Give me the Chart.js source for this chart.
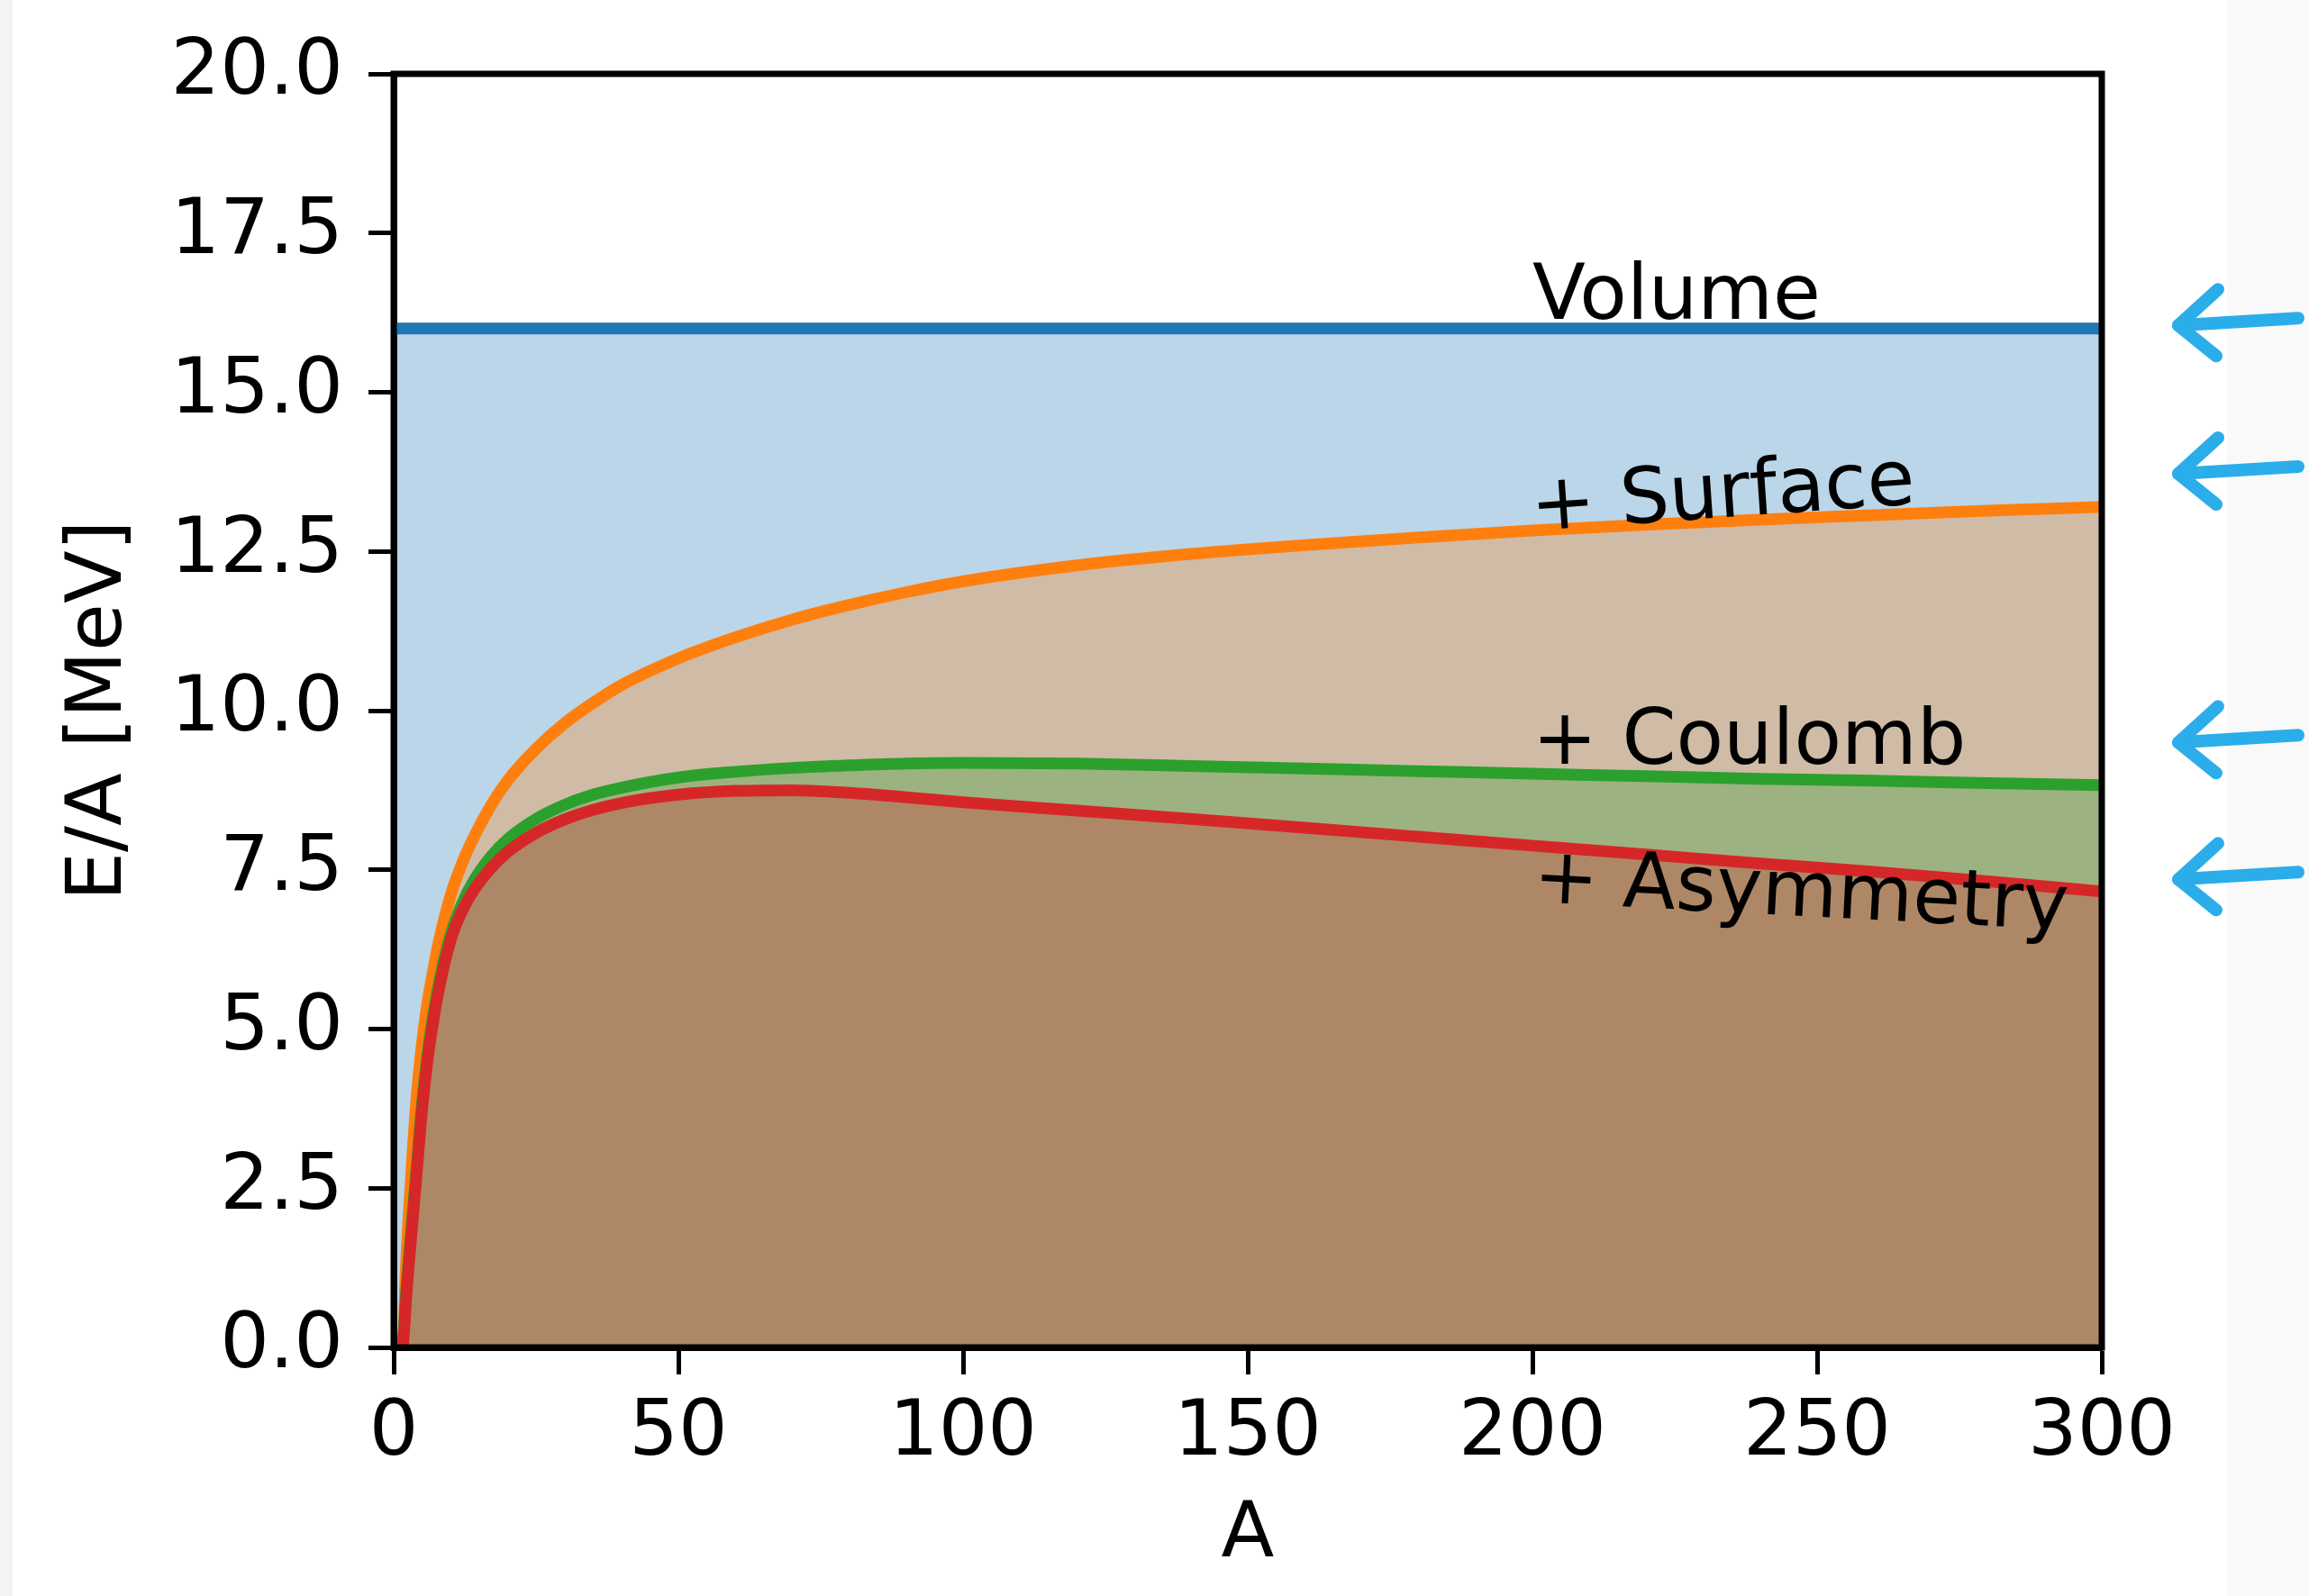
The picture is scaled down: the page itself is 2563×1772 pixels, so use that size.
<!DOCTYPE html>
<html>
<head>
<meta charset="utf-8">
<script src="https://cdn.jsdelivr.net/npm/chart.js@4.4.1/dist/chart.umd.min.js"></script>
<style>
  html, body { margin: 0; padding: 0; background: #ffffff; }
  #wrap { width: 2563px; height: 1772px; position: relative; background: #ffffff; }
  canvas { display: block; }
</style>
</head>
<body>
<div id="wrap"><canvas id="c" width="2563" height="1772"></canvas></div>
<script>
// ---- data (values below 0 are off-chart estimates) ----
const A_VALUES   = [0, 1, 2, 3, 4, 5, 6, 7, 8, 10, 12, 14, 17, 20, 25, 30, 35, 40, 50, 60, 70, 80, 90, 100, 120, 140, 160, 180, 200, 220, 240, 260, 280, 300];
const VOLUME     = [16, 16, 16, 16, 16, 16, 16, 16, 16, 16, 16, 16, 16, 16, 16, 16, 16, 16, 16, 16, 16, 16, 16, 16, 16, 16, 16, 16, 16, 16, 16, 16, 16, 16];
const SURFACE    = [-8, -2.5, 0.9, 2.6, 3.9, 4.8, 5.45, 5.95, 6.4, 7.1, 7.6, 8.0, 8.5, 8.9, 9.4, 9.8, 10.12, 10.4, 10.82, 11.15, 11.43, 11.66, 11.86, 12.03, 12.28, 12.46, 12.6, 12.72, 12.83, 12.92, 13.0, 13.07, 13.14, 13.2];
const COULOMB    = [-8, -1.5, 0.6, 1.75, 2.8, 3.85, 4.65, 5.25, 5.75, 6.48, 6.97, 7.32, 7.7, 7.98, 8.3, 8.52, 8.68, 8.79, 8.95, 9.04, 9.1, 9.14, 9.17, 9.18, 9.17, 9.13, 9.09, 9.05, 9.01, 8.97, 8.93, 8.9, 8.86, 8.83];
const ASYMMETRY  = [-8, -1.5, 0.5, 1.65, 2.7, 3.75, 4.55, 5.15, 5.65, 6.4, 6.85, 7.17, 7.52, 7.78, 8.08, 8.29, 8.44, 8.55, 8.68, 8.74, 8.75, 8.71, 8.64, 8.56, 8.43, 8.3, 8.16, 8.02, 7.88, 7.74, 7.6, 7.47, 7.32, 7.16];

const X_TICK_VALUES = [0, 50, 100, 150, 200, 250, 300];
const X_TICK_LABELS = ['0', '50', '100', '150', '200', '250', '300'];
const Y_TICK_VALUES = [0, 2.5, 5, 7.5, 10, 12.5, 15, 17.5, 20];
const Y_TICK_LABELS = ['0.0', '2.5', '5.0', '7.5', '10.0', '12.5', '15.0', '17.5', '20.0'];

const X_TITLE = 'A';
const Y_TITLE = 'E/A [MeV]';

// text annotations (data coordinates) and rotation in degrees
const LABEL_TEXTS  = ['Volume', '+ Surface', '+ Coulomb', '+ Asymmetry'];
const LABEL_A      = [200, 200, 200, 200];
const LABEL_VALUES = [16.15, 12.83, 9.16, 7.0];
const LABEL_ROT    = [0, -4, 0, 3];

// hand-drawn arrows on the right margin, pointing at these values
const ARROW_VALUES = [16.05, 13.72, 9.5, 7.35];

// ---- styling ----
const FONT = 'DejaVu Sans';
const FS = 86;
const COLORS = ['#1f77b4', '#ff7f0e', '#2ca02c', '#d62728'];
const FILLS  = ['rgba(31,119,180,0.3)', 'rgba(255,127,14,0.3)', 'rgba(44,160,44,0.3)', 'rgba(214,39,40,0.3)'];
const SERIES = [VOLUME, SURFACE, COULOMB, ASYMMETRY];
const NAMES  = ['Volume', 'Surface', 'Coulomb', 'Asymmetry'];

const datasets = SERIES.map((vals, i) => ({
  label: NAMES[i],
  data: A_VALUES.map((a, k) => ({ x: a, y: vals[k] })),
  borderColor: COLORS[i],
  backgroundColor: FILLS[i],
  borderWidth: 13,
  pointRadius: 0,
  fill: 'origin',
  cubicInterpolationMode: 'monotone',
  order: SERIES.length - i,
  clip: 0
}));

const bgPlugin = {
  id: 'bg',
  beforeDraw(chart) {
    const { ctx, width, height } = chart;
    ctx.save();
    ctx.fillStyle = '#ffffff';
    ctx.fillRect(0, 0, width, height);
    ctx.fillStyle = '#f3f3f3';
    ctx.fillRect(0, 0, 14, height);
    ctx.fillStyle = '#f9f9f9';
    ctx.fillRect(2472, 0, width - 2472, height);
    ctx.restore();
  }
};

const spinePlugin = {
  id: 'spines',
  afterDatasetsDraw(chart) {
    const { ctx, chartArea: a } = chart;
    ctx.save();
    ctx.strokeStyle = '#000';
    ctx.lineWidth = 7;
    ctx.strokeRect(a.left, a.top, a.right - a.left, a.bottom - a.top);
    ctx.restore();
  }
};

const annotationPlugin = {
  id: 'annot',
  afterDraw(chart) {
    const { ctx, chartArea: a } = chart;
    const xs = chart.scales.x, ys = chart.scales.y;
    ctx.save();
    ctx.fillStyle = '#000';
    ctx.font = FS + 'px "' + FONT + '"';
    ctx.textAlign = 'left';
    ctx.textBaseline = 'alphabetic';
    LABEL_TEXTS.forEach((t, i) => {
      const px = xs.getPixelForValue(LABEL_A[i]);
      const py = ys.getPixelForValue(LABEL_VALUES[i]);
      ctx.save();
      ctx.translate(px, py);
      ctx.rotate(LABEL_ROT[i] * Math.PI / 180);
      ctx.fillText(t, 0, 0);
      ctx.restore();
    });
    ctx.restore();

    // hand-drawn style arrows
    ctx.save();
    ctx.strokeStyle = '#2badea';
    ctx.lineWidth = 14;
    ctx.lineCap = 'round';
    ctx.lineJoin = 'round';
    ARROW_VALUES.forEach((v) => {
      const y = ys.getPixelForValue(v);
      const tip = a.right + 85;
      const end = a.right + 218;
      ctx.beginPath();
      ctx.moveTo(end, y - 8);
      ctx.quadraticCurveTo((tip + end) / 2, y - 4, tip, y);
      ctx.stroke();
      ctx.beginPath();
      ctx.moveTo(tip + 44, y - 40);
      ctx.lineTo(tip, y);
      ctx.lineTo(tip + 42, y + 34);
      ctx.stroke();
    });
    ctx.restore();
  }
};

new Chart(document.getElementById('c'), {
  type: 'line',
  data: { datasets },
  plugins: [bgPlugin, spinePlugin, annotationPlugin],
  options: {
    responsive: false,
    animation: false,
    devicePixelRatio: 1,
    layout: { padding: { left: 0, top: 82, right: 230, bottom: 0 } },
    plugins: {
      legend: { display: false },
      tooltip: { enabled: false },
      filler: { drawTime: 'beforeDatasetsDraw' }
    },
    scales: {
      x: {
        type: 'linear',
        min: 0, max: 300,
        afterFit(s) { s.height = 276; },
        afterBuildTicks(s) { s.ticks = X_TICK_VALUES.map(v => ({ value: v })); },
        ticks: {
          autoSkip: false, maxRotation: 0, minRotation: 0,
          padding: 15,
          color: '#000',
          font: { family: FONT, size: FS, lineHeight: 1.2 },
          callback: (v, idx) => X_TICK_LABELS[idx]
        },
        grid: { drawOnChartArea: false, drawTicks: true, tickLength: 30, tickWidth: 5, tickColor: '#000' },
        border: { display: true, color: '#000', width: 7 },
        title: { display: true, text: X_TITLE, color: '#000', font: { family: FONT, size: FS, lineHeight: 1.2 }, padding: { top: 0, bottom: 15 } }
      },
      y: {
        type: 'linear',
        min: 0, max: 20,
        afterFit(s) { s.width = 437; },
        afterBuildTicks(s) { s.ticks = Y_TICK_VALUES.map(v => ({ value: v })); },
        ticks: {
          autoSkip: false,
          padding: 28,
          color: '#000',
          font: { family: FONT, size: FS, lineHeight: 1.2 },
          callback: (v, idx) => Y_TICK_LABELS[idx]
        },
        grid: { drawOnChartArea: false, drawTicks: true, tickLength: 28, tickWidth: 5, tickColor: '#000' },
        border: { display: true, color: '#000', width: 7 },
        title: { display: true, text: Y_TITLE, color: '#000', font: { family: FONT, size: FS, lineHeight: 1.2 }, padding: { top: 60, bottom: 0 } }
      }
    }
  }
});
</script>
</body>
</html>
